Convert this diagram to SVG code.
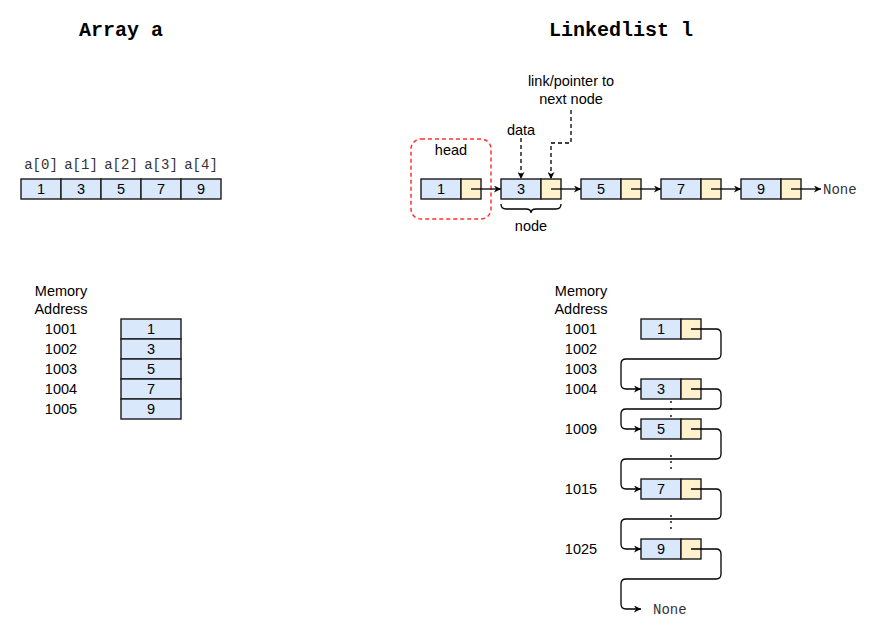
<svg xmlns="http://www.w3.org/2000/svg" width="874" height="642" viewBox="0 0 874 642">
<style>
.d{fill:#dae8fc;stroke:#1a1a1a;stroke-width:1.4}
.p{fill:#fff2cc;stroke:#1a1a1a;stroke-width:1.4}
.t{font-family:"Liberation Sans",Arial,sans-serif;font-size:14.5px;fill:#000;text-anchor:middle}
.m{font-family:"Liberation Mono","Courier New",monospace;font-size:14px;fill:#333}
.h{font-family:"Liberation Mono","Courier New",monospace;font-size:20px;font-weight:bold;fill:#000;text-anchor:middle}
.c{fill:none;stroke:#000;stroke-width:1.3}
.dash{fill:none;stroke:#000;stroke-width:1.3;stroke-dasharray:4 3}
</style>
<defs>
<marker id="ar" viewBox="0 0 10 10" refX="10" refY="5" markerWidth="7" markerHeight="7" markerUnits="userSpaceOnUse" orient="auto">
<path d="M0,0 L10,5 L0,10 L3,5 Z" fill="#000"/>
</marker>
</defs>

<g id="titles">
<text class="h" x="121" y="36">Array a</text>
<text class="h" x="621" y="36">Linkedlist l</text>
</g>

<g id="array-a">
<text class="m" x="41" y="169" text-anchor="middle">a[0]</text>
<text class="m" x="81" y="169" text-anchor="middle">a[1]</text>
<text class="m" x="121" y="169" text-anchor="middle">a[2]</text>
<text class="m" x="161" y="169" text-anchor="middle">a[3]</text>
<text class="m" x="201" y="169" text-anchor="middle">a[4]</text>
<rect class="d" x="21" y="179" width="40" height="20"/>
<rect class="d" x="61" y="179" width="40" height="20"/>
<rect class="d" x="101" y="179" width="40" height="20"/>
<rect class="d" x="141" y="179" width="40" height="20"/>
<rect class="d" x="181" y="179" width="40" height="20"/>
<text class="t" x="41" y="194">1</text>
<text class="t" x="81" y="194">3</text>
<text class="t" x="121" y="194">5</text>
<text class="t" x="161" y="194">7</text>
<text class="t" x="201" y="194">9</text>
</g>

<g id="array-memory">
<text class="t" x="61" y="296">Memory</text>
<text class="t" x="61" y="314">Address</text>
<text class="t" x="61" y="334">1001</text>
<text class="t" x="61" y="354">1002</text>
<text class="t" x="61" y="374">1003</text>
<text class="t" x="61" y="394">1004</text>
<text class="t" x="61" y="414">1005</text>
<rect class="d" x="121" y="319" width="60" height="20"/>
<rect class="d" x="121" y="339" width="60" height="20"/>
<rect class="d" x="121" y="359" width="60" height="20"/>
<rect class="d" x="121" y="379" width="60" height="20"/>
<rect class="d" x="121" y="399" width="60" height="20"/>
<text class="t" x="151" y="334">1</text>
<text class="t" x="151" y="354">3</text>
<text class="t" x="151" y="374">5</text>
<text class="t" x="151" y="394">7</text>
<text class="t" x="151" y="414">9</text>
</g>

<g id="head">
<rect x="411" y="139" width="80" height="80" rx="10" fill="none" stroke="#ff3333" stroke-width="1.5" stroke-dasharray="4 3"/>
<text class="t" x="451" y="155">head</text>
</g>

<g id="ll-node1"><rect class="d" x="421" y="179" width="40" height="20"/><rect class="p" x="461" y="179" width="20" height="20"/><text class="t" x="441" y="194">1</text></g>
<g id="ll-node3"><rect class="d" x="501" y="179" width="40" height="20"/><rect class="p" x="541" y="179" width="20" height="20"/><text class="t" x="521" y="194">3</text></g>
<g id="ll-node5"><rect class="d" x="581" y="179" width="40" height="20"/><rect class="p" x="621" y="179" width="20" height="20"/><text class="t" x="601" y="194">5</text></g>
<g id="ll-node7"><rect class="d" x="661" y="179" width="40" height="20"/><rect class="p" x="701" y="179" width="20" height="20"/><text class="t" x="681" y="194">7</text></g>
<g id="ll-node9"><rect class="d" x="741" y="179" width="40" height="20"/><rect class="p" x="781" y="179" width="20" height="20"/><text class="t" x="761" y="194">9</text></g>
<g id="ll-none"><text class="m" x="823" y="194">None</text></g>

<g id="annotations">
<text class="t" x="521" y="135">data</text>
<text class="t" x="571" y="86">link/pointer to</text>
<text class="t" x="571" y="104">next node</text>
<path d="M501,204 Q501,209 506,209 L526,209 Q531,209 531,213 Q531,209 536,209 L556,209 Q561,209 561,204" class="c"/>
<text class="t" x="531" y="231">node</text>
</g>

<g id="mem-labels">
<text class="t" x="581" y="296">Memory</text>
<text class="t" x="581" y="314">Address</text>
<text class="t" x="581" y="334">1001</text>
<text class="t" x="581" y="354">1002</text>
<text class="t" x="581" y="374">1003</text>
<text class="t" x="581" y="394">1004</text>
<text class="t" x="581" y="434">1009</text>
<text class="t" x="581" y="494">1015</text>
<text class="t" x="581" y="554">1025</text>
</g>

<g id="mem-node1"><rect class="d" x="641" y="319" width="40" height="20"/><rect class="p" x="681" y="319" width="20" height="20"/><text class="t" x="661" y="334">1</text></g>
<g id="mem-node3"><rect class="d" x="641" y="379" width="40" height="20"/><rect class="p" x="681" y="379" width="20" height="20"/><text class="t" x="661" y="394">3</text></g>
<g id="mem-node5"><rect class="d" x="641" y="419" width="40" height="20"/><rect class="p" x="681" y="419" width="20" height="20"/><text class="t" x="661" y="434">5</text></g>
<g id="mem-node7"><rect class="d" x="641" y="479" width="40" height="20"/><rect class="p" x="681" y="479" width="20" height="20"/><text class="t" x="661" y="494">7</text></g>
<g id="mem-node9"><rect class="d" x="641" y="539" width="40" height="20"/><rect class="p" x="681" y="539" width="20" height="20"/><text class="t" x="661" y="554">9</text></g>
<g id="mem-none"><text class="m" x="653" y="614">None</text></g>

<g id="ellipses" fill="#000">
<circle cx="671" cy="402" r="0.9"/><circle cx="671" cy="409" r="0.9"/><circle cx="671" cy="416" r="0.9"/>
<circle cx="671" cy="456" r="0.9"/><circle cx="671" cy="462" r="0.9"/><circle cx="671" cy="468" r="0.9"/>
<circle cx="671" cy="516" r="0.9"/><circle cx="671" cy="522" r="0.9"/><circle cx="671" cy="528" r="0.9"/>
</g>

<g id="connectors">
<path class="c" d="M471,189 L501,189" marker-end="url(#ar)"/>
<path class="c" d="M551,189 L581,189" marker-end="url(#ar)"/>
<path class="c" d="M631,189 L661,189" marker-end="url(#ar)"/>
<path class="c" d="M711,189 L741,189" marker-end="url(#ar)"/>
<path class="c" d="M791,189 L821,189" marker-end="url(#ar)"/>
<path class="dash" d="M521,138 L521,179" marker-end="url(#ar)"/>
<path class="dash" d="M571,110 L571,143 L551,143 L551,179" marker-end="url(#ar)"/>
<path class="c" d="M691,329 L716,329 Q721,329 721,334 L721,354 Q721,359 716,359 L626,359 Q621,359 621,364 L621,384 Q621,389 626,389 L641,389" marker-end="url(#ar)"/>
<path class="c" d="M691,389 L716,389 Q721,389 721,394 L721,404 Q721,409 716,409 L626,409 Q621,409 621,414 L621,424 Q621,429 626,429 L641,429" marker-end="url(#ar)"/>
<path class="c" d="M691,429 L716,429 Q721,429 721,434 L721,454 Q721,459 716,459 L626,459 Q621,459 621,464 L621,484 Q621,489 626,489 L641,489" marker-end="url(#ar)"/>
<path class="c" d="M691,489 L716,489 Q721,489 721,494 L721,514 Q721,519 716,519 L626,519 Q621,519 621,524 L621,544 Q621,549 626,549 L641,549" marker-end="url(#ar)"/>
<path class="c" d="M691,549 L716,549 Q721,549 721,554 L721,574 Q721,579 716,579 L626,579 Q621,579 621,584 L621,604 Q621,609 626,609 L641,609" marker-end="url(#ar)"/>
</g>
</svg>
